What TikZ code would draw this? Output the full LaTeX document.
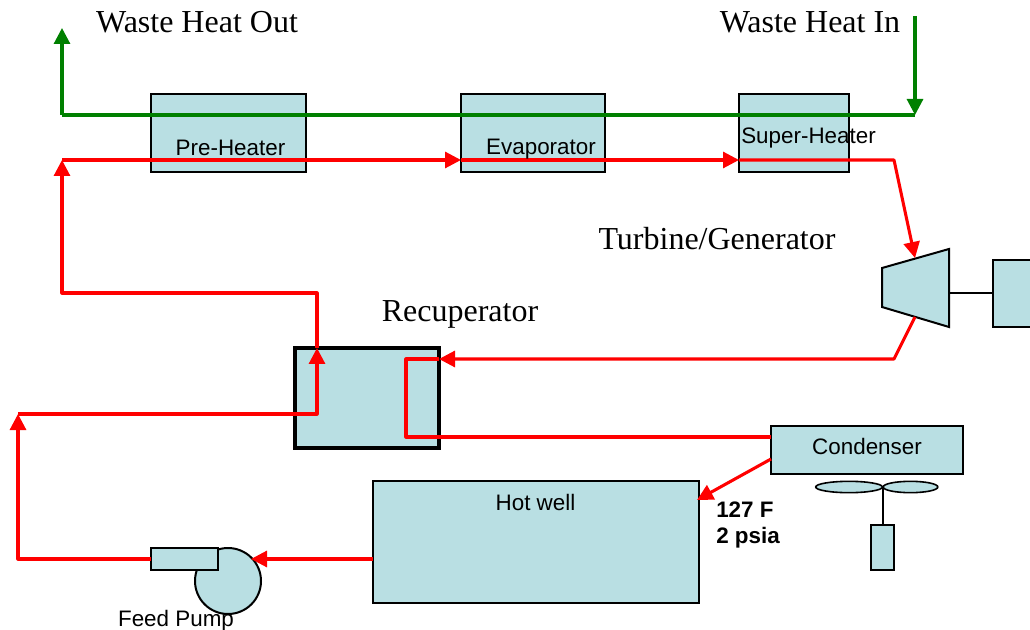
\documentclass[tikz,border=0pt]{standalone}
\usepackage{fontspec}
\setmainfont{Liberation Serif}
\setsansfont{Liberation Sans}
\usetikzlibrary{arrows.meta,shapes.geometric}
\definecolor{unitfill}{HTML}{B9DFE3}
\tikzset{
    unitbox/.style 2 args={draw=black, line width=1.5pt, fill=unitfill, inner sep=0pt, outer sep=0pt, minimum width=#1*0.75pt, minimum height=#2*0.75pt},
    unitlabel/.style={font=\sffamily\fontsize{16.8}{20}\selectfont, inner sep=0pt},
    titlelabel/.style={font=\rmfamily\fontsize{24}{28}\selectfont, inner sep=0pt},
    noteline/.style={font=\sffamily\bfseries\fontsize{16.8}{20}\selectfont, inner sep=0pt, anchor=west},
    redflow/.style={draw=red, line width=2.3pt, line join=round},
    greenflow/.style={draw=green!50!black, line width=2.3pt, line join=round},
    tip/.style={-{Triangle[length=12pt,width=12pt]}}
}
\begin{document}
\begin{tikzpicture}[x=0.75pt,y=-0.75pt]
        \useasboundingbox (0,0) rectangle (1030,630);
        % units
        \node[unitbox={155}{78}] (preheater) at (228.5,133) {};
        \node[unitbox={144}{78}] (evaporator) at (533,133) {};
        \node[unitbox={110}{78}] (superheater) at (794,133) {};
        \node[unitbox={144}{100}, line width=2.4pt] (recuperator) at (367,398) {};
        \node[unitbox={192}{48}] (condenser) at (867,450) {};
        \node[unitbox={326}{122}] (hotwell) at (536,542) {};
        \node[unitbox={50}{67}] (generator) at (1018,293.5) {};
        \node[unitbox={23}{45}] (fanmotor) at (882.5,547.5) {};
        \node[unitbox={66}{66}, circle] (pumpbody) at (228,581) {};
        \node[unitbox={67}{22}] (pumpoutlet) at (184.5,559) {};
        \filldraw[fill=unitfill, draw=black, line width=1.5pt] (882,268) -- (949,249) -- (949,327) -- (882,307) -- cycle;
        \node[draw=black, line width=1.2pt, fill=unitfill, ellipse, inner sep=0pt, minimum width=50pt, minimum height=8.5pt] (fanleft) at (849,487) {};
        \node[draw=black, line width=1.2pt, fill=unitfill, ellipse, inner sep=0pt, minimum width=41pt, minimum height=8.5pt] (fanright) at (910.5,487) {};
        % free ends
        \coordinate (turbinein) at (915,258);
        \coordinate (turbineout) at (915,317);
        \coordinate (turbineshaft) at (949,293.5);
        \coordinate (turbinebend) at (894,359);
        \coordinate (fanhub) at (882.5,487);
        \coordinate (heatin) at (915,16);
        \coordinate (heatbend) at (915,115);
        \coordinate (heatend) at (62,115);
        \coordinate (heatout) at (62,28);
        \coordinate (loopstart) at (62,160);
        \coordinate (evapin) at (461,160);
        \coordinate (superin) at (739,160);
        \coordinate (superbend) at (894,160);
        \coordinate (recupin) at (439,359);
        \coordinate (recupleft) at (406,359);
        \coordinate (recupdown) at (406,437);
        \coordinate (condin) at (771,437);
        \coordinate (condout) at (771,459);
        \coordinate (wellin) at (697,500);
        \coordinate (wellout) at (373,559);
        \coordinate (pumpin) at (251,559);
        \coordinate (pumpout) at (151,559);
        \coordinate (lowcorner) at (18,559);
        \coordinate (lowtop) at (18,414);
        \coordinate (recupturn) at (317,414);
        \coordinate (recuptop) at (317,348);
        \coordinate (upturn) at (317,293);
        \coordinate (upleft) at (62,293);
        % shafts
        \draw[line width=1.5pt] (turbineshaft) -- (generator.west);
        \draw[line width=1.5pt] (fanhub) -- (fanmotor.north);
        % green loop
        \draw[greenflow, tip] (heatend) -- (heatout);
        \draw[greenflow] (heatend) -- (heatbend);
        \draw[greenflow, tip] (heatin) -- (heatbend);
        % red loop
        \draw[redflow, tip] (loopstart) -- (evapin);
        \draw[redflow, tip] (evapin) -- (superin);
        \draw[redflow, tip] (superin) -- (superbend) -- (turbinein);
        \draw[redflow, tip] (turbineout) -- (turbinebend) -- (recupin);
        \draw[redflow] (recupin) -- (recupleft) -- (recupdown) -- (condin);
        \draw[redflow, tip] (condout) -- (wellin);
        \draw[redflow, tip] (wellout) -- (pumpin);
        \draw[redflow, tip] (pumpout) -- (lowcorner) -- (lowtop);
        \draw[redflow, tip] (lowtop) -- (recupturn) -- (recuptop);
        \draw[redflow, tip] (recuptop) -- (upturn) -- (upleft) -- (loopstart);
        % labels
        \node[titlelabel] (heatoutlabel) at (197,22) {Waste Heat Out};
        \node[titlelabel] (heatinlabel) at (810,22) {Waste Heat In};
        \node[titlelabel] (turbinelabel) at (717,239) {Turbine/Generator};
        \node[titlelabel] (recuplabel) at (460,314) {Recuperator};
        \node[unitlabel] (preheaterlabel) at (230.5,147.5) {Pre-Heater};
        \node[unitlabel] (evaporatorlabel) at (541,149) {Evaporator};
        \node[unitlabel] (superheaterlabel) at (808.5,138) {Super-Heater};
        \node[unitlabel] (condenserlabel) at (867,446.5) {Condenser};
        \node[unitlabel] (hotwelllabel) at (535.5,502) {Hot well};
        \node[unitlabel] (pumplabel) at (176,621) {Feed Pump};
        \node[noteline] (notetemp) at (716,510) {127 F};
        \node[noteline] (notepress) at (716,537.5) {2 psia};
    \end{tikzpicture}
\end{document}
